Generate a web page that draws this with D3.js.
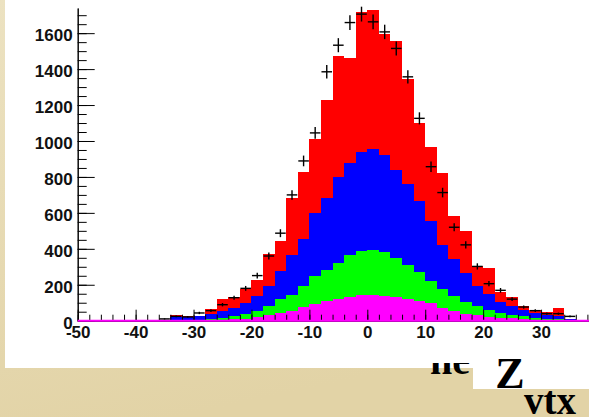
<!DOCTYPE html>
<html>
<head>
<meta charset="utf-8">
<script src="https://cdn.jsdelivr.net/npm/d3@7"></script>
<style>
  body { margin: 0; }
  svg { display: block; }
</style>
</head>
<body>
<div id="chart"></div>
<script>
// bin lower edges (bin width 2)
var binLow = [-36, -34, -32, -30, -28, -26, -24, -22, -20, -18, -16, -14, -12, -10, -8, -6, -4, -2,
              0, 2, 4, 6, 8, 10, 12, 14, 16, 18, 20, 22, 24, 26, 28, 30, 32, 34];
// stacked components, bottom to top
var magenta = [0, 1, 1, 2, 3, 5, 8, 12, 20, 30, 43, 52, 74, 94, 107, 122, 131, 144,
               144, 139, 131, 122, 107, 98, 68, 52, 39, 30, 22, 17, 13, 9, 6, 4, 2, 1];
var green = [0, 2, 3, 4, 7, 10, 16, 26, 35, 50, 77, 92, 121, 156, 176, 200, 232, 246,
             251, 246, 217, 189, 162, 121, 106, 87, 65, 50, 39, 26, 20, 15, 11, 7, 7, 5];
var blue = [0, 17, 16, 18, 29, 37, 46, 60, 85, 114, 157, 221, 257, 350, 402, 476, 517, 549,
            559, 537, 491, 450, 399, 333, 249, 204, 161, 114, 87, 61, 47, 37, 26, 21, 15, 5];
var red = [0, 13, 4, 3, 28, 66, 60, 76, 88, 178, 164, 320, 375, 409, 543, 674, 583, 779,
           777, 676, 718, 582, 430, 416, 401, 240, 235, 113, 145, 53, 51, 22, 18, 14, 48, 1];
// data points (crosses)
var points = [10, 24, 21, 43, 56, 89, 128, 180, 251, 360, 487, 700, 889, 1045, 1385, 1533, 1659, 1706,
              1663, 1607, 1515, 1357, 1126, 857, 713, 520, 422, 302, 206, 169, 120, 76, 56, 39, 39, 24];

var xMajor = [-50, -40, -30, -20, -10, 0, 10, 20, 30, 40, 50];
var xLabels = ["-50", "-40", "-30", "-20", "-10", "0", "10", "20", "30", "", ""];
var yMajor = [0, 200, 400, 600, 800, 1000, 1200, 1400, 1600];

var W = 589, H = 417, binW = 2;
var keys = ["magenta", "green", "blue", "red"];
var colors = {magenta: "#ff00ff", green: "#00ff00", blue: "#0000ff", red: "#ff0000"};

var svg = d3.select("#chart").append("svg")
    .attr("width", W)
    .attr("height", H);

// slide background
var defs = svg.append("defs");
var grad = defs.append("linearGradient").attr("id", "bg")
    .attr("x1", 0).attr("y1", 0).attr("x2", 0.3).attr("y2", 1);
grad.append("stop").attr("offset", "0%").attr("stop-color", "#ece2c1");
grad.append("stop").attr("offset", "100%").attr("stop-color", "#e2d3a6");
svg.append("rect").attr("width", W).attr("height", H).attr("fill", "url(#bg)");

// white picture panel
svg.append("rect").attr("x", 5).attr("y", 0).attr("width", W - 5).attr("height", 368).attr("fill", "#fff");
svg.append("rect").attr("x", 473).attr("y", 355).attr("width", W - 473).attr("height", 34).attr("fill", "#fff");

// half hidden text under the panel
defs.append("clipPath").attr("id", "neClip")
  .append("rect").attr("x", 400).attr("y", 363).attr("width", 73).attr("height", 54);
svg.append("text")
    .attr("clip-path", "url(#neClip)")
    .attr("x", 430).attr("y", 374)
    .style("font-family", "'Liberation Serif', serif")
    .style("font-weight", "bold")
    .style("font-size", "40px")
    .text("ne");

// axis title Z_vtx
svg.append("text")
    .attr("x", 510).attr("y", 388)
    .attr("text-anchor", "middle")
    .style("font-family", "'Liberation Serif', serif")
    .style("font-weight", "bold")
    .style("font-size", "44px")
    .text("Z");
svg.append("text")
    .attr("x", 524).attr("y", 414)
    .style("font-family", "'Liberation Serif', serif")
    .style("font-weight", "bold")
    .style("font-size", "39px")
    .text("vtx");

var x = d3.scaleLinear().domain([-50, 50]).range([77.7, 656.9]);
var y = d3.scaleLinear().domain([0, 1740]).range([320.7, 8]);

var rows = binLow.map(function(b, i) {
  return {low: b, magenta: magenta[i], green: green[i], blue: blue[i], red: red[i]};
});
var series = d3.stack().keys(keys)(rows);

// stacked bars
svg.append("g").selectAll("g")
  .data(series)
  .enter().append("g")
    .attr("fill", function(d) { return colors[d.key]; })
  .selectAll("rect")
  .data(function(d) { return d; })
  .enter().append("rect")
    .attr("shape-rendering", "crispEdges")
    .attr("x", function(d) { return x(d.data.low); })
    .attr("width", function(d) { return x(d.data.low + binW) - x(d.data.low); })
    .attr("y", function(d) { return y(d[1]); })
    .attr("height", function(d) { return y(d[0]) - y(d[1]); });

// X axis, ticks pointing up
var xAxis = svg.append("g")
    .attr("transform", "translate(0," + y(0) + ")")
    .call(d3.axisBottom(x).tickValues(xMajor).tickSize(-11).tickSizeOuter(0).tickPadding(5)
      .tickFormat(function(d, i) { return xLabels[i]; }));
svg.append("g")
    .attr("transform", "translate(0," + y(0) + ")")
    .call(d3.axisBottom(x).tickValues(d3.range(-50, 51, 2)).tickSize(-6).tickSizeOuter(0).tickFormat(""));

// Y axis, ticks pointing right
var yAxis = svg.append("g")
    .attr("transform", "translate(" + x(-50) + ",0)")
    .call(d3.axisLeft(y).tickValues(yMajor).tickSize(-17).tickSizeOuter(0).tickPadding(5)
      .tickFormat(function(d) { return String(d); }));
svg.append("g")
    .attr("transform", "translate(" + x(-50) + ",0)")
    .call(d3.axisLeft(y).tickValues(d3.range(0, 1740, 50)).tickSize(-9).tickSizeOuter(0).tickFormat(""));

svg.selectAll(".tick text")
    .style("font-family", "'Liberation Sans', Arial, sans-serif")
    .style("font-weight", "bold")
    .style("font-size", "17px")
    .attr("fill", "#111");
yAxis.selectAll(".tick text").attr("dy", "0.45em");

// magenta outline on the baseline
svg.append("line")
    .attr("x1", x(-50)).attr("x2", x(50))
    .attr("y1", y(0)).attr("y2", y(0))
    .attr("stroke", "#ff00ff")
    .attr("stroke-width", 2);

// data crosses
var cross = svg.append("g").attr("stroke", "#000").attr("stroke-width", 1.4);
points.forEach(function(v, i) {
  var cx = x(binLow[i] + binW / 2);
  var err = Math.sqrt(v);
  cross.append("line")
      .attr("x1", x(binLow[i]) + 0.5).attr("x2", x(binLow[i] + binW) - 0.5)
      .attr("y1", y(v)).attr("y2", y(v));
  cross.append("line")
      .attr("x1", cx).attr("x2", cx)
      .attr("y1", y(v - err)).attr("y2", y(v + err));
});
</script>
</body>
</html>
